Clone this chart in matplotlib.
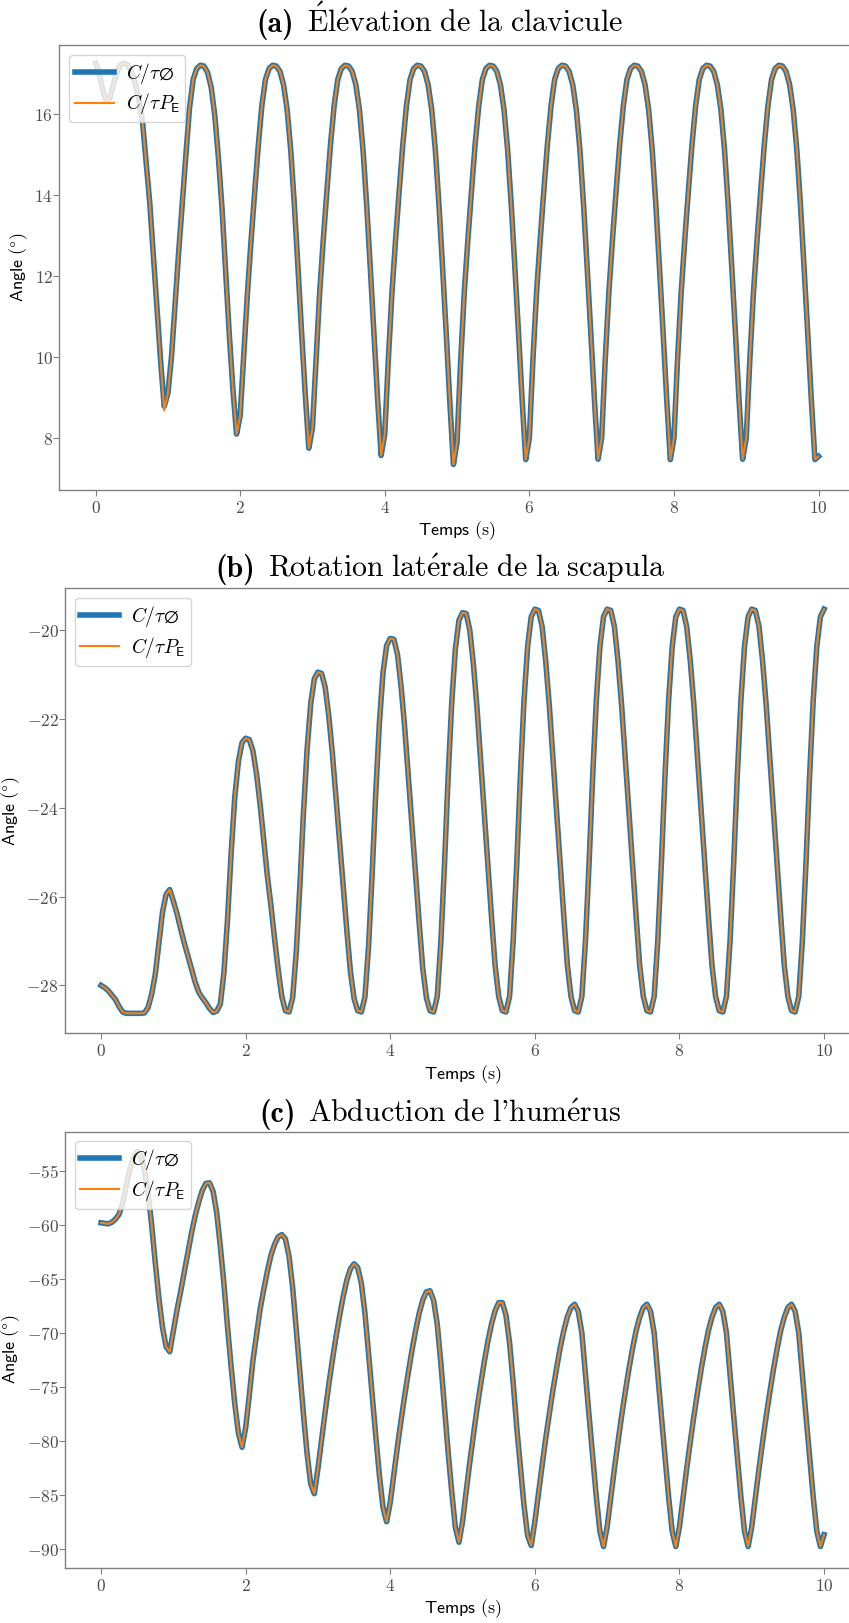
import numpy as np
import matplotlib
matplotlib.use("Agg")
import matplotlib.pyplot as plt
from matplotlib.ticker import FuncFormatter, MultipleLocator
from matplotlib.offsetbox import TextArea, HPacker, AnnotationBbox

plt.rcParams["mathtext.fontset"] = "cm"
plt.rcParams["axes.unicode_minus"] = False

# ---------------------------------------------------------------- data
# time base (s), one sample every 50 ms
t = np.linspace(0.0, 10.0, 201)

# (a) clavicle elevation (deg)
elev_ref = [
    17.25, 17.00, 16.60, 16.30, 16.40, 16.75, 17.05, 17.22, 17.25, 17.20,
    17.05, 16.75, 16.35, 15.80, 14.80, 13.80, 12.50, 11.20, 9.90, 8.78,
    9.10, 10.00, 11.30, 12.60, 13.80, 15.00, 16.15, 16.85, 17.12, 17.20,
    17.18, 17.02, 16.65, 15.95, 14.90, 13.65, 12.10, 10.55, 9.20, 8.10,
    8.55, 10.05, 11.55, 12.85, 14.05, 15.20, 16.20, 16.85, 17.12, 17.20,
    17.18, 17.05, 16.72, 16.10, 15.10, 13.75, 12.20, 10.60, 9.10, 7.75,
    8.25, 9.95, 11.60, 12.90, 14.10, 15.25, 16.20, 16.85, 17.12, 17.20,
    17.18, 17.05, 16.72, 16.10, 15.10, 13.75, 12.20, 10.60, 9.00, 7.57,
    8.10, 9.95, 11.60, 12.90, 14.10, 15.25, 16.20, 16.85, 17.12, 17.20,
    17.18, 17.05, 16.72, 16.10, 15.10, 13.75, 12.20, 10.60, 8.90, 7.35,
    7.90, 9.90, 11.60, 12.90, 14.10, 15.25, 16.20, 16.85, 17.12, 17.20,
    17.18, 17.05, 16.72, 16.10, 15.10, 13.75, 12.20, 10.60, 8.95, 7.47,
    8.00, 9.95, 11.60, 12.90, 14.10, 15.25, 16.20, 16.85, 17.12, 17.20,
    17.18, 17.05, 16.72, 16.10, 15.10, 13.75, 12.20, 10.60, 8.95, 7.48,
    8.00, 9.95, 11.60, 12.90, 14.10, 15.25, 16.20, 16.85, 17.12, 17.20,
    17.18, 17.05, 16.72, 16.10, 15.10, 13.75, 12.20, 10.60, 8.95, 7.47,
    8.00, 9.95, 11.60, 12.90, 14.10, 15.25, 16.20, 16.85, 17.12, 17.20,
    17.18, 17.05, 16.72, 16.10, 15.10, 13.75, 12.20, 10.60, 8.95, 7.48,
    8.00, 9.95, 11.60, 12.90, 14.10, 15.25, 16.20, 16.85, 17.12, 17.20,
    17.18, 17.05, 16.72, 16.10, 15.10, 13.75, 12.20, 10.60, 8.95, 7.47,
    7.55,
]
elev_pe = list(elev_ref)
elev_pe[19] = 8.68

# (b) scapula lateral rotation (deg)
scap_ref = [
    -28.00, -28.05, -28.12, -28.22, -28.32, -28.48, -28.60, -28.63, -28.63, -28.63,
    -28.63, -28.63, -28.62, -28.50, -28.20, -27.75, -27.05, -26.35, -25.95, -25.84,
    -26.10, -26.38, -26.72, -27.04, -27.33, -27.62, -27.92, -28.15, -28.28, -28.39,
    -28.52, -28.61, -28.58, -28.42, -27.70, -26.50, -25.00, -23.75, -22.95, -22.53,
    -22.43, -22.46, -22.71, -23.23, -23.92, -24.72, -25.53, -26.20, -26.95, -27.65,
    -28.25, -28.57, -28.60, -28.28, -27.25, -25.75, -24.10, -22.68, -21.65, -21.09,
    -20.94, -20.97, -21.28, -21.93, -22.78, -23.78, -24.78, -25.77, -26.77, -27.70,
    -28.30, -28.57, -28.60, -28.26, -27.12, -25.48, -23.64, -22.08, -20.95, -20.34,
    -20.18, -20.20, -20.54, -21.26, -22.19, -23.29, -24.39, -25.49, -26.59, -27.62,
    -28.28, -28.57, -28.60, -28.25, -27.02, -25.28, -23.32, -21.64, -20.43, -19.77,
    -19.60, -19.62, -19.99, -20.76, -21.75, -22.92, -24.10, -25.27, -26.45, -27.55,
    -28.25, -28.57, -28.60, -28.25, -27.00, -25.25, -23.28, -21.58, -20.36, -19.69,
    -19.52, -19.55, -19.91, -20.69, -21.69, -22.87, -24.06, -25.25, -26.43, -27.55,
    -28.25, -28.57, -28.60, -28.25, -27.00, -25.25, -23.28, -21.58, -20.36, -19.69,
    -19.52, -19.55, -19.91, -20.69, -21.69, -22.87, -24.06, -25.25, -26.43, -27.55,
    -28.25, -28.57, -28.60, -28.25, -27.00, -25.25, -23.28, -21.58, -20.36, -19.69,
    -19.52, -19.55, -19.91, -20.69, -21.69, -22.87, -24.06, -25.25, -26.43, -27.55,
    -28.25, -28.57, -28.60, -28.25, -27.00, -25.25, -23.28, -21.58, -20.36, -19.69,
    -19.52, -19.55, -19.91, -20.69, -21.69, -22.87, -24.06, -25.25, -26.43, -27.55,
    -28.25, -28.57, -28.60, -28.25, -27.00, -25.25, -23.28, -21.58, -20.36, -19.69,
    -19.52,
]
scap_pe = list(scap_ref)

# (c) humerus abduction (deg)
hum_ref = [
    -59.80, -59.85, -59.90, -59.75, -59.45, -59.00, -57.95, -56.30, -54.80, -53.70,
    -53.20, -53.60, -54.90, -57.00, -60.00, -63.50, -66.80, -69.50, -71.30, -71.75,
    -69.80, -67.90, -66.20, -64.40, -62.60, -60.80, -59.20, -57.90, -56.80, -56.15,
    -56.10, -56.90, -58.90, -62.00, -65.50, -69.50, -73.20, -76.60, -79.30, -80.60,
    -78.80, -75.80, -72.60, -70.20, -67.80, -66.00, -64.30, -62.80, -61.80, -61.10,
    -60.90, -61.30, -62.90, -65.80, -69.65, -73.60, -77.60, -81.20, -84.00, -84.90,
    -82.56, -79.90, -77.30, -74.80, -72.50, -70.36, -68.40, -66.60, -65.10, -64.05,
    -63.60, -63.95, -65.40, -68.20, -71.90, -75.80, -79.60, -83.20, -86.20, -87.50,
    -85.70, -83.10, -80.50, -78.10, -75.80, -73.66, -71.64, -69.80, -68.20, -66.95,
    -66.20, -66.10, -67.00, -69.20, -72.80, -76.90, -81.00, -84.70, -88.00, -89.40,
    -87.50, -84.70, -82.00, -79.50, -77.00, -74.80, -72.70, -70.80, -69.20, -67.95,
    -67.20, -67.20, -68.35, -70.90, -74.60, -78.80, -82.35, -86.00, -88.80, -89.70,
    -87.50, -84.90, -82.30, -79.80, -77.50, -75.30, -73.30, -71.40, -69.80, -68.50,
    -67.65, -67.35, -68.00, -70.00, -73.90, -77.70, -81.40, -85.20, -88.40, -89.80,
    -87.96, -85.30, -82.60, -80.10, -77.70, -75.50, -73.40, -71.50, -69.80, -68.55,
    -67.65, -67.35, -68.00, -70.00, -73.90, -77.70, -81.40, -85.20, -88.40, -89.80,
    -87.96, -85.30, -82.60, -80.10, -77.70, -75.50, -73.40, -71.50, -69.80, -68.55,
    -67.65, -67.35, -68.00, -70.00, -73.90, -77.70, -81.40, -85.20, -88.40, -89.80,
    -87.96, -85.30, -82.60, -80.10, -77.70, -75.50, -73.40, -71.50, -69.80, -68.55,
    -67.65, -67.35, -68.00, -70.00, -73.90, -77.70, -81.40, -85.20, -88.40, -89.80,
    -88.70,
]
hum_pe = list(hum_ref)

x_ticks = [0, 2, 4, 6, 8, 10]
label_ref = r"$C/\tau\varnothing$"
label_pe = r"$C/\tau P_\mathsf{E}$"

panels = [
    ("(a)", r"$\mathrm{\acute{E}l\acute{e}vation\ de\ la\ clavicule}$",
     elev_ref, elev_pe, (6.72, 17.70), 2),
    ("(b)", r"$\mathrm{Rotation\ lat\acute{e}rale\ de\ la\ scapula}$",
     scap_ref, scap_pe, (-29.08, -19.05), 2),
    ("(c)", r"$\mathrm{Abduction\ de\ l}$'$\mathrm{hum\acute{e}rus}$",
     hum_ref, hum_pe, (-91.76, -51.36), 5),
]

# ---------------------------------------------------------------- layout
W, H = 849, 1623
fig = plt.figure(figsize=(W / 100, H / 100), dpi=100)
fig.patch.set_facecolor("white")

# axes boxes in pixels: left, top, right, bottom ; title centre line (px)
boxes = [
    ((59.4, 45.0, 854.7, 490.0), 22),
    ((64.9, 588.3, 860.2, 1033.3), 568),
    ((64.9, 1131.7, 860.2, 1567.7), 1115),
]

tick_fmt = FuncFormatter(lambda v, pos: r"$%g$" % v)
title_size = 21.5

for (tag, title, ref, pe, ylim, ystep), ((l, tp, r, b), ty) in zip(panels, boxes):
    ax = fig.add_axes([l / W, 1 - b / H, (r - l) / W, (b - tp) / H])
    ax.plot(t, ref, color="#1f77b4", lw=4.0, label=label_ref, zorder=2)
    ax.plot(t, pe, color="#ff7f0e", lw=1.5, label=label_pe, zorder=3)
    ax.set_xlim(-0.5, 10.5)
    ax.set_ylim(*ylim)
    ax.set_xticks(x_ticks)
    ax.yaxis.set_major_locator(MultipleLocator(ystep))
    ax.xaxis.set_major_formatter(tick_fmt)
    ax.yaxis.set_major_formatter(tick_fmt)
    ax.tick_params(direction="out", length=4.0, width=0.8, color="0.5",
                   labelsize=12.5, labelcolor="0.3")
    ax.tick_params(axis="x", pad=2.4)
    ax.tick_params(axis="y", pad=0.5)
    for sp in ax.spines.values():
        sp.set_color("0.5")
        sp.set_linewidth(1.0)
    ax.set_xlabel(r"$\mathsf{Temps}\ (\mathrm{s})$", fontsize=13, labelpad=2)
    ax.set_ylabel(r"$\mathsf{Angle}\ (\degree)$", fontsize=13, labelpad=3)
    ax.legend(loc="upper left", fontsize=14, framealpha=0.8, edgecolor="0.8",
              fancybox=True, labelspacing=0.3, handlelength=2.0,
              handletextpad=0.6, borderpad=0.3)

    head = TextArea(tag, textprops=dict(family="cmb10", fontsize=title_size))
    body = TextArea(title, textprops=dict(family="cmr10", fontsize=title_size))
    pack = HPacker(children=[head, body], sep=9, align="baseline", pad=0)
    fig.add_artist(AnnotationBbox(pack, (440 / W, 1 - ty / H),
                                  xycoords="figure fraction",
                                  box_alignment=(0.5, 0.5), frameon=False))

fig.savefig("out.png", dpi=100, facecolor="white")
